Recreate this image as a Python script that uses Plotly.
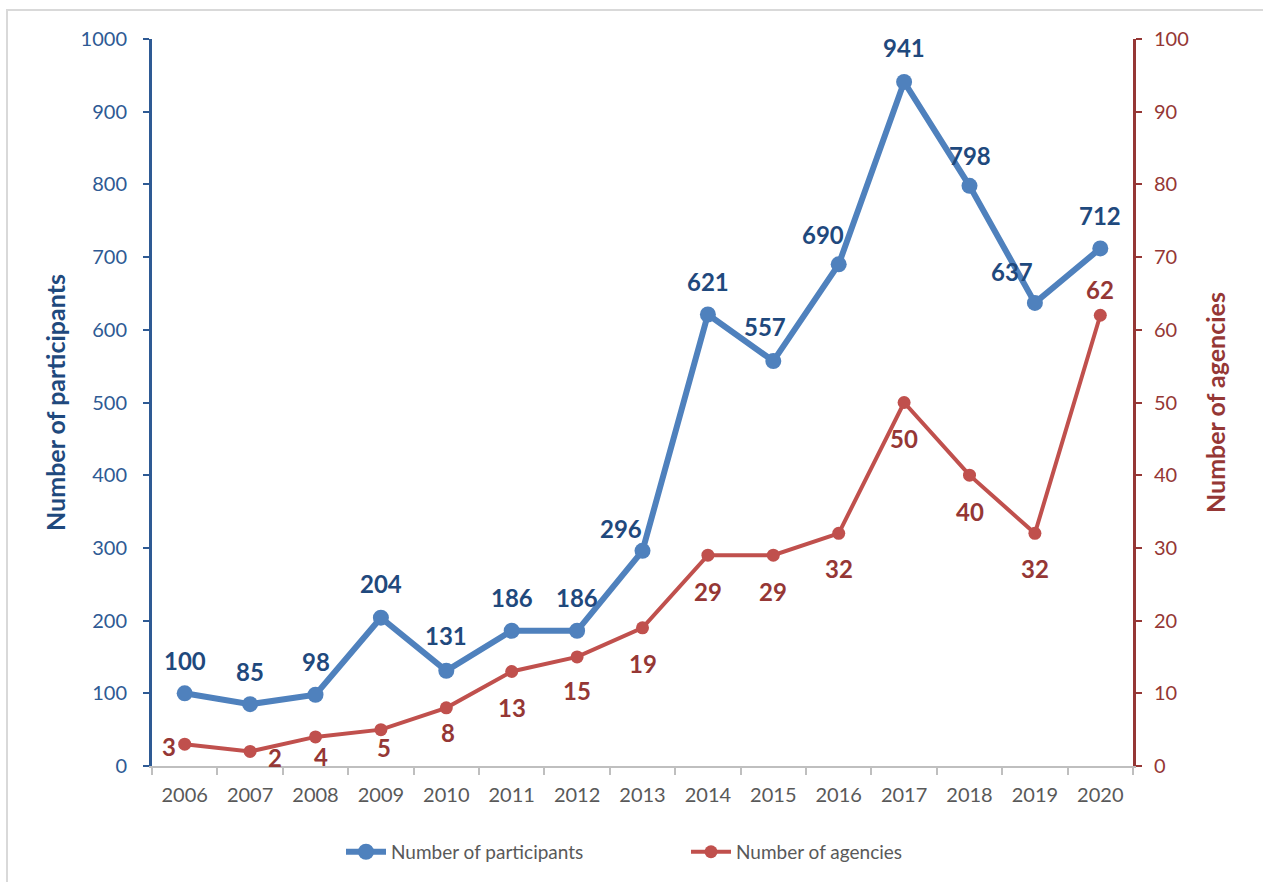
import plotly.graph_objects as go

years = ["2006", "2007", "2008", "2009", "2010", "2011", "2012", "2013",
         "2014", "2015", "2016", "2017", "2018", "2019", "2020"]
participants = [100, 85, 98, 204, 131, 186, 186, 296, 621, 557, 690, 941, 798, 637, 712]
agencies = [3, 2, 4, 5, 8, 13, 15, 19, 29, 29, 32, 50, 40, 32, 62]

# label offsets from each point, in pixels (dx right, dy up)
participant_label_offsets = [(0, 33), (0, 33), (0, 33), (0, 34), (0, 35), (0, 33), (0, 33),
                             (-22, 22), (0, 33), (-8, 35), (-16, 30), (0, 34), (0, 30),
                             (-23, 31), (0, 33)]
agency_label_offsets = [(-16, -2), (25, -6), (5, -20), (3, -18), (2, -25), (0, -36), (0, -34),
                        (0, -36), (0, -36), (0, -36), (0, -35), (0, -36), (0, -36),
                        (0, -35), (0, 26)]

FONT = "Lato"
BLUE_LINE = "#4F81BD"
BLUE_TEXT = "#1F497D"
BLUE_AXIS = "#2E5A94"
RED_LINE = "#C0504D"
RED_TEXT = "#953735"
LABEL_SIZE = 24

fig = go.Figure()

fig.add_trace(go.Scatter(
    x=years, y=participants, name="Number of participants",
    mode="lines+markers",
    line=dict(color=BLUE_LINE, width=6),
    marker=dict(color=BLUE_LINE, size=16),
    cliponaxis=False,
))

fig.add_trace(go.Scatter(
    x=years, y=agencies, name="Number of agencies", yaxis="y2",
    mode="lines+markers",
    line=dict(color=RED_LINE, width=4),
    marker=dict(color=RED_LINE, size=13),
    cliponaxis=False,
))

# value labels, positioned on the category index of each year
for i, (v, (dx, dy)) in enumerate(zip(participants, participant_label_offsets)):
    fig.add_annotation(
        x=i, y=v, xref="x", yref="y", text="<b>%d</b>" % v, showarrow=False,
        xshift=dx, yshift=dy,
        font=dict(family=FONT, size=LABEL_SIZE, color=BLUE_TEXT),
    )
for i, (v, (dx, dy)) in enumerate(zip(agencies, agency_label_offsets)):
    fig.add_annotation(
        x=i, y=v, xref="x", yref="y2", text="<b>%d</b>" % v, showarrow=False,
        xshift=dx, yshift=dy,
        font=dict(family=FONT, size=LABEL_SIZE, color=RED_TEXT),
    )

fig.update_layout(
    width=1263, height=882,
    margin=dict(l=152, r=130, t=39, b=115),
    paper_bgcolor="white", plot_bgcolor="white",
    font=dict(family=FONT, size=20, color="#595959"),
    showlegend=True,
    legend=dict(orientation="h", x=(341 - 152) / 981, xanchor="left",
                y=-0.085 - 4 / 728, yanchor="top",
                font=dict(family=FONT, size=19, color="#595959"),
                itemwidth=40, entrywidth=290, tracegroupgap=0),
    xaxis=dict(
        type="category", tickson="boundaries", range=[-0.5, 14.5],
        showline=True, linecolor="#BFBFBF", linewidth=2,
        ticks="outside", ticklen=7, tickcolor="#BFBFBF", tickwidth=2,
        ticklabelstandoff=10,
        tickfont=dict(family=FONT, size=20, color="#595959"),
        showgrid=False, zeroline=False,
    ),
    yaxis=dict(
        range=[0, 1000], dtick=100,
        showline=True, linecolor=BLUE_AXIS, linewidth=3,
        ticks="outside", ticklen=6, tickcolor=BLUE_AXIS, tickwidth=2,
        ticklabelstandoff=12,
        tickfont=dict(family=FONT, size=20, color=BLUE_AXIS),
        showgrid=False, zeroline=False,
        title=dict(text="Number of participants",
                   font=dict(family=FONT, size=25, color=BLUE_TEXT, weight="bold"),
                   standoff=8),
    ),
    yaxis2=dict(
        range=[0, 100], dtick=10, overlaying="y", side="right",
        showline=True, linecolor=RED_TEXT, linewidth=3,
        ticks="outside", ticklen=6, tickcolor=RED_TEXT, tickwidth=2,
        ticklabelstandoff=8,
        tickfont=dict(family=FONT, size=20, color=RED_TEXT),
        showgrid=False, zeroline=False,
        title=dict(text="Number of agencies",
                   font=dict(family=FONT, size=25, color=RED_TEXT, weight="bold"),
                   standoff=20),
    ),
    shapes=[dict(
        type="rect", xref="paper", yref="paper",
        x0=(7 - 152) / 981, x1=(1300 - 152) / 981,
        y0=-0.3, y1=1 + 29 / 728,
        line=dict(color="#D9D9D9", width=2), fillcolor="rgba(0,0,0,0)",
        layer="below",
    )],
)

fig.write_html("out.html")
